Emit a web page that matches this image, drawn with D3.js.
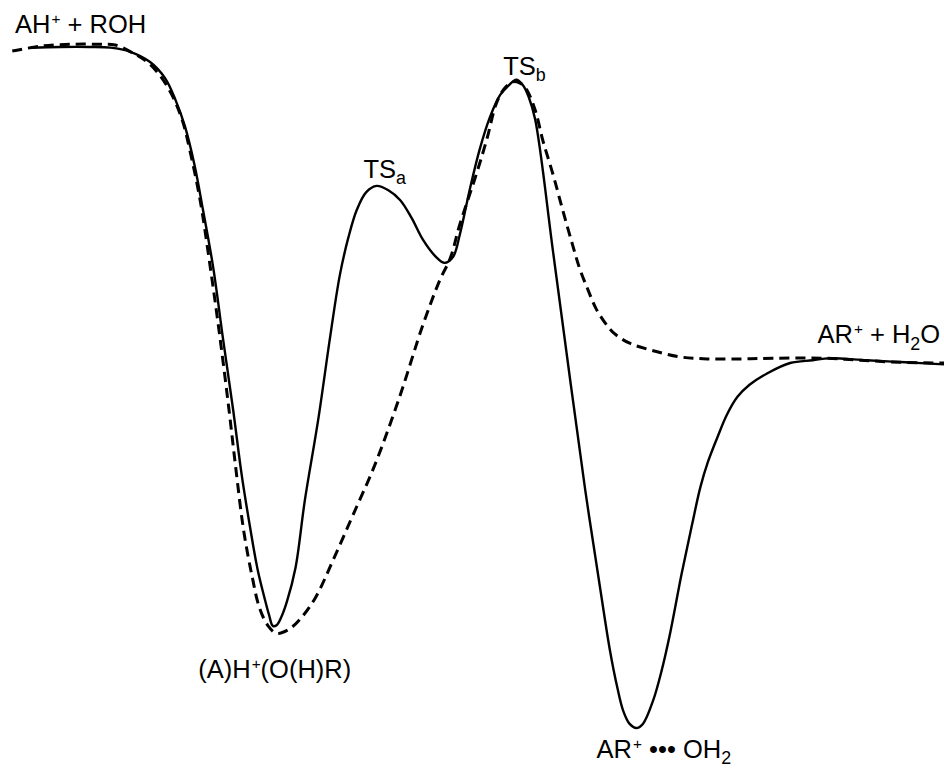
<!DOCTYPE html>
<html>
<head>
<meta charset="utf-8">
<script src="https://cdn.jsdelivr.net/npm/d3@7"></script>
<style>
  html, body { margin: 0; padding: 0; background: #fff; }
  svg { display: block; }
  text { font-family: "Liberation Sans", Arial, Helvetica, sans-serif; fill: #000; }
</style>
</head>
<body>
<svg id="chart" width="944" height="769"></svg>
<script>
// Reaction coordinate (arbitrary, 0-100) and relative energy (arbitrary units)
const solidX = [3.2, 6.4, 9.5, 11.7, 13.8, 15.9, 17.5, 18.6, 19.6, 20.6, 21.5, 22.6, 23.6, 24.7, 25.6, 26.5, 27.3, 28.0, 28.5, 28.9,
  29.3, 29.8, 30.4, 31.3, 32.3, 33.7, 35.0, 36.0, 36.9, 37.8, 38.8, 39.9, 41.1, 42.4, 43.6, 44.8, 46.1, 47.1, 48.0, 48.7, 49.8, 50.8,
  51.9, 53.0, 53.7, 54.7, 55.4, 56.0, 56.7, 58.6, 60.4, 62.0, 63.6, 64.6, 65.4, 66.0, 66.7, 67.4, 68.1, 69.2, 70.1, 71.0, 72.2,
  73.3, 74.2, 75.0, 76.0, 77.0, 78.1, 79.4, 81.3, 83.7, 86.1, 87.9, 91.8, 95.9, 100.0];
const solidE = [-0.1, 0.0, 0.0, -0.1, -0.7, -2.2, -4.6, -7.8, -11.7, -17.3, -23.9, -32.5, -42.6, -53.3, -62.8, -70.6, -76.8, -80.8, -83.4, -85.0,
  -84.9, -83.7, -81.4, -76.5, -66.5, -54.8, -42.3, -33.5, -28.0, -23.9, -21.3, -20.4, -21.0, -22.5, -25.1, -28.3, -30.7, -31.7, -30.8, -27.6, -20.7, -15.1,
  -10.3, -7.0, -5.9, -4.8, -5.6, -7.3, -10.7, -30.2, -48.9, -65.1, -79.7, -88.5, -94.1, -97.4, -99.4, -100.0, -99.4, -95.9, -91.5, -86.0, -77.4,
  -70.2, -64.6, -60.9, -57.3, -54.0, -51.4, -49.6, -47.9, -46.4, -46.0, -45.7, -46.0, -46.3, -46.6];

const dashX = [1.3, 4.2, 7.4, 10.6, 12.2, 14.1, 15.6, 16.9, 18.2, 19.3, 20.1, 21.2, 22.2, 23.2, 24.2, 25.0, 25.8, 26.7, 27.5, 28.4,
  29.3, 30.5, 31.8, 33.4, 35.3, 37.4, 39.7, 42.4, 44.8, 46.6, 47.7, 48.7, 50.5, 51.6, 52.6, 53.5, 54.4, 55.2, 55.8, 56.7,
  57.5, 58.6, 59.6, 60.6, 61.4, 62.3, 63.1, 64.1, 65.1, 66.7, 69.2, 72.0, 74.9, 78.4, 81.9, 87.2, 91.1, 95.3, 100.0];
const dashE = [-0.6, 0.1, 0.4, 0.4, 0.3, -0.9, -2.2, -4.1, -7.0, -10.7, -15.1, -22.5, -31.6, -41.6, -52.6, -62.1, -70.9, -77.7, -82.4, -85.0,
  -86.1, -85.6, -84.0, -80.9, -75.3, -68.7, -61.4, -51.1, -40.8, -34.2, -31.0, -26.1, -18.5, -13.4, -8.2, -6.0, -5.1, -5.4, -6.3, -9.3,
  -13.7, -18.8, -23.9, -28.8, -32.5, -35.7, -38.3, -40.5, -42.1, -43.5, -44.6, -45.5, -45.8, -45.8, -45.7, -45.7, -46.0, -46.3, -46.4];

// State labels: pieces of [text, kind]
const labelTexts = [
  [["AH", ""], ["+", "sup"], [" + ROH", ""]],
  [["TS", ""], ["a", "sub"]],
  [["TS", ""], ["b", "sub"]],
  [["(A)H", ""], ["+", "sup"], ["(O(H)R)", ""]],
  [["AR", ""], ["+", "sup"], [" \u2022\u2022\u2022 OH", ""], ["2", "sub"]],
  [["AR", ""], ["+", "sup"], [" + H", ""], ["2", "sub"], ["O", ""]]
];
const labelX = [1.6, 38.5, 53.3, 21.0, 63.2, 86.6];
const labelE = [2.1, -19.2, -4.1, -92.7, -104.4, -43.5];

const W = 944, H = 769;
const svg = d3.select("#chart");
const x = d3.scaleLinear().domain([0, 100]).range([0, W]);
const y = d3.scaleLinear().domain([0, -100]).range([47, 728]);

const line = d3.line().x(d => x(d[0])).y(d => y(d[1])).curve(d3.curveCatmullRom.alpha(0.5));

const solid = solidX.map((v, i) => [v, solidE[i]]);
const dashed = dashX.map((v, i) => [v, dashE[i]]);

svg.append("path").datum(dashed)
  .attr("d", line).attr("fill", "none").attr("stroke", "#000")
  .attr("stroke-width", 3).attr("stroke-dasharray", "10,6");

svg.append("path").datum(solid)
  .attr("d", line).attr("fill", "none").attr("stroke", "#000")
  .attr("stroke-width", 2.4);

const fs = 25.5;
labelTexts.forEach((parts, i) => {
  const t = svg.append("text")
    .attr("x", x(labelX[i])).attr("y", y(labelE[i]))
    .attr("font-size", fs);
  let shift = 0;
  parts.forEach(p => {
    const ts = t.append("tspan").text(p[0]);
    let target = 0;
    if (p[1] === "sup") {
      ts.attr("font-size", fs * 0.6).attr("dx", 1);
      target = -fs * 0.35;
    } else if (p[1] === "sub") {
      ts.attr("font-size", fs * 0.7);
      target = fs * 0.25;
    }
    ts.attr("dy", target - shift);
    shift = target;
  });
});
</script>
</body>
</html>
